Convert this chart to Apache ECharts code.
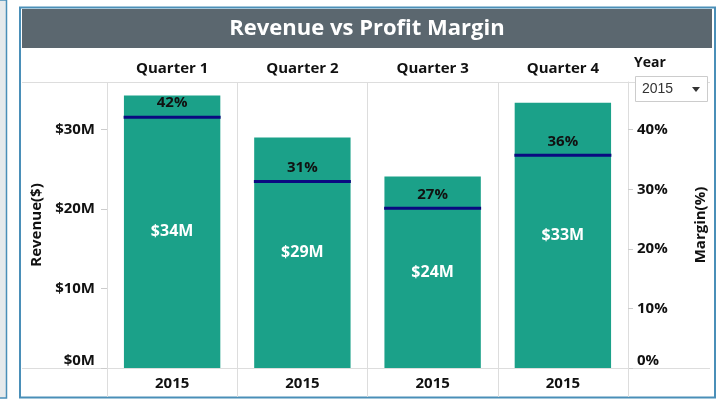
<!DOCTYPE html>
<html>
<head>
<meta charset="utf-8">
<script src="https://cdn.jsdelivr.net/npm/echarts@6/dist/echarts.min.js"></script>
<style>
  html, body { margin: 0; padding: 0; background: #fff; }
  #chart { width: 717px; height: 400px; }
</style>
</head>
<body>
<div id="chart"></div>
<script>
// data
var quarters = ['Quarter 1', 'Quarter 2', 'Quarter 3', 'Quarter 4'];
var years = ['2015', '2015', '2015', '2015'];
var revenue = [34.3, 29.0, 24.1, 33.4];   // $M
var margin = [42.1, 31.3, 26.8, 35.7];    // %

var font = '"Open Sans", Lato, sans-serif';
var gridColor = '#dddddd';

var chart = echarts.init(document.getElementById('chart'));

var option = {
    backgroundColor: '#ffffff',
    animation: false,
    textStyle: { fontFamily: font },
    grid: { left: 107, right: 89, top: 82, bottom: 32 },
    graphic: [
        // strip of the neighbouring panel on the left
        { type: 'rect', z: -10, shape: { x: -4, y: 0, width: 10.5, height: 398 },
          style: { fill: '#e6eaec', stroke: '#4a8fb8', lineWidth: 1.5 } },
        // outer frame
        { type: 'rect', z: -10, shape: { x: 20, y: 7.5, width: 695, height: 390 },
          style: { fill: '#ffffff', stroke: '#4a8fb8', lineWidth: 2 } },
        // title bar
        { type: 'rect', z: -9, shape: { x: 22, y: 9, width: 690, height: 39 },
          style: { fill: '#5b676f' } },
        { type: 'text', x: 367, y: 29, z: 10,
          style: { text: 'Revenue vs Profit Margin', fill: '#ffffff', font: 'bold 22px ' + font,
                   textAlign: 'center', textVerticalAlign: 'middle' } },
        // table borders
        { type: 'line', z: -5, shape: { x1: 22, y1: 82.5, x2: 710, y2: 82.5 },
          style: { stroke: gridColor, lineWidth: 1 } },
        { type: 'line', z: -5, shape: { x1: 22, y1: 368.5, x2: 710, y2: 368.5 },
          style: { stroke: gridColor, lineWidth: 1 } },
        // year filter
        { type: 'text', x: 634, y: 63,
          style: { text: 'Year', fill: '#111', font: 'bold 14px ' + font, textVerticalAlign: 'middle' } },
        { type: 'rect', z: 5, shape: { x: 635.5, y: 76.5, width: 72, height: 25 },
          style: { fill: '#ffffff', stroke: '#cccccc', lineWidth: 1 } },
        { type: 'text', x: 642, y: 89.5, z: 6,
          style: { text: years[0], fill: '#333', font: '14px "Liberation Sans", Arial, sans-serif',
                   textVerticalAlign: 'middle' } },
        { type: 'polygon', z: 6, shape: { points: [[692, 87], [700, 87], [696, 92]] },
          style: { fill: '#333' } }
    ],
    xAxis: [
        {
            type: 'category',
            position: 'bottom',
            data: years,
            axisLine: { show: false },
            axisTick: { show: true, length: 29, lineStyle: { color: gridColor } },
            axisLabel: { color: '#111', fontWeight: 'bold', fontSize: 15, margin: 8 },
            splitLine: { show: true, lineStyle: { color: gridColor } }
        },
        {
            type: 'category',
            position: 'top',
            data: quarters,
            axisLine: { show: false },
            axisTick: { show: true, length: 29, lineStyle: { color: gridColor } },
            axisLabel: { color: '#111', fontWeight: 'bold', fontSize: 15, margin: 6 }
        }
    ],
    yAxis: [
        {
            type: 'value',
            position: 'left',
            min: 0, max: 36, interval: 10,
            name: 'Revenue($)',
            nameLocation: 'middle',
            nameGap: 62,
            nameRotate: 90,
            nameTextStyle: { color: '#111', fontWeight: 'bold', fontSize: 15 },
            axisLine: { show: false },
            axisTick: { show: true, length: 6, lineStyle: { color: '#cccccc' } },
            axisLabel: {
                color: '#111', fontWeight: 'bold', fontSize: 15, margin: 12,
                showMaxLabel: false, verticalAlignMinLabel: 'bottom',
                formatter: function (v) { return '$' + v + 'M'; }
            },
            splitLine: { show: false }
        },
        {
            type: 'value',
            position: 'right',
            min: 0, max: 48, interval: 10,
            name: 'Margin(%)',
            nameLocation: 'middle',
            nameGap: 65,
            nameRotate: 90,
            nameTextStyle: { color: '#111', fontWeight: 'bold', fontSize: 15 },
            axisLine: { show: true, lineStyle: { color: gridColor } },
            axisTick: { show: true, length: 5, lineStyle: { color: '#cccccc' } },
            axisLabel: {
                color: '#111', fontWeight: 'bold', fontSize: 15, margin: 9,
                showMaxLabel: false, verticalAlignMinLabel: 'bottom',
                formatter: function (v) { return v + '%'; }
            },
            splitLine: { show: false }
        }
    ],
    series: [
        {
            name: 'Revenue',
            type: 'bar',
            xAxisIndex: 0,
            yAxisIndex: 0,
            data: revenue,
            barWidth: '74%',
            itemStyle: { color: '#1ba189' },
            label: {
                show: true,
                position: 'inside',
                color: '#ffffff',
                fontWeight: 'bold',
                fontSize: 16,
                formatter: function (p) { return '$' + Math.round(p.value) + 'M'; }
            }
        },
        {
            name: 'Margin',
            type: 'scatter',
            xAxisIndex: 0,
            yAxisIndex: 1,
            data: margin,
            symbol: 'rect',
            symbolSize: [97, 3],
            itemStyle: { color: '#0a0a80', opacity: 1 },
            z: 5,
            label: {
                show: true,
                position: 'top',
                distance: 5,
                color: '#111',
                fontWeight: 'bold',
                fontSize: 15,
                formatter: function (p) { return Math.round(p.value) + '%'; }
            }
        }
    ]
};

chart.setOption(option);
</script>
</body>
</html>
